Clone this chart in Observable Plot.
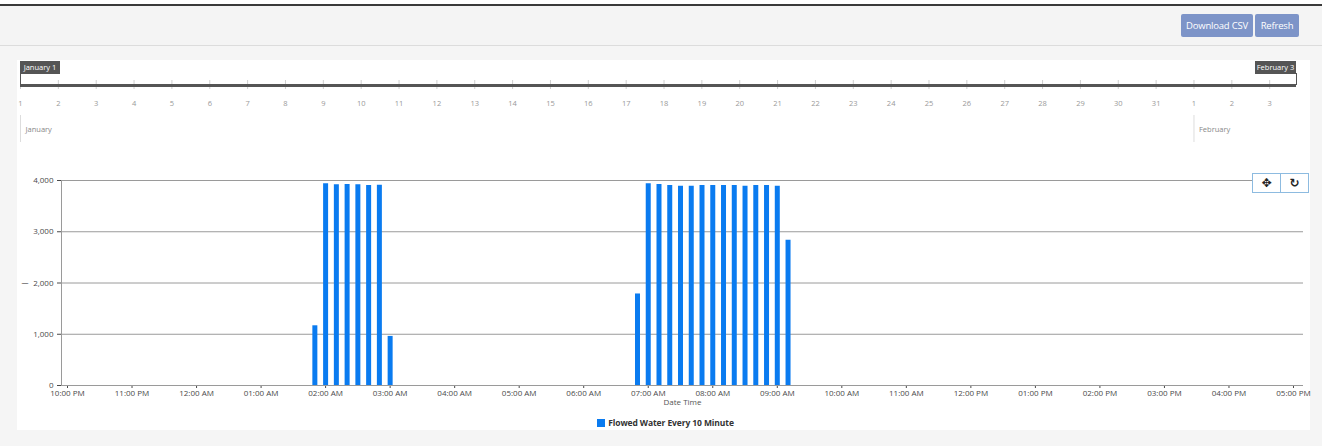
<!DOCTYPE html>
<html>
<head>
<meta charset="utf-8">
<script src="https://cdn.jsdelivr.net/npm/d3@7"></script>
<script src="https://cdn.jsdelivr.net/npm/@observablehq/plot@0.6"></script>
<style>
  html, body { margin: 0; padding: 0; }
  body { width: 1322px; height: 446px; overflow: hidden; background: #f5f5f5; position: relative; font-family: "Open Sans", "Noto Sans", sans-serif; }
  #whiteTop { position: absolute; left: 0; top: 0; width: 1322px; height: 4px; background: #fff; }
  #topline { position: absolute; left: 0; top: 4px; width: 1322px; height: 2px; background: #3a3a3a; }
  #header { position: absolute; left: 0; top: 6px; width: 1322px; height: 39px; background: #f4f4f4; border-bottom: 1px solid #dcdcdc; }
  .btn { position: absolute; top: 8px; height: 23px; line-height: 23px; background: #7d94c8; color: #fff; font-size: 9.5px; text-align: center; border-radius: 2px; white-space: nowrap; letter-spacing: -0.2px; }
  #panel { position: absolute; left: 17px; top: 60px; width: 1293px; height: 370px; background: #fff; }
  #timeline { position: absolute; left: 0; top: 0; }
  #chart { position: absolute; left: 0; top: 100px; }
  .flag { position: absolute; top: 1px; height: 13px; line-height: 13px; background: #555; color: #fff; font-size: 7.5px; text-align: center; white-space: nowrap; }
  #zoomBox { position: absolute; left: 1235px; top: 113px; height: 18px; border: 1px solid #8dbbe0; background: #fff; display: flex; }
  #zoomBox div { width: 27px; height: 18px; line-height: 18px; text-align: center; font-size: 12px; font-weight: bold; color: #222; font-family: "DejaVu Sans", sans-serif; }
  #zoomBox div + div { border-left: 1px solid #8dbbe0; }
  #legend { position: absolute; left: 2px; top: 357px; width: 1293px; display: flex; justify-content: center; align-items: center; font-size: 8.5px; font-weight: bold; color: #333; letter-spacing: -0.1px; }
  #legend span.sw { display: inline-block; width: 8px; height: 8px; margin-right: 3px; }
</style>
</head>
<body>
<div id="whiteTop"></div>
<div id="topline"></div>
<div id="header">
  <div class="btn" style="left:1181px;width:72px;">Download CSV</div>
  <div class="btn" style="left:1255px;width:44px;">Refresh</div>
</div>
<div id="panel">
  <div id="timeline"></div>
  <div class="flag" style="left:3px;width:40px;">January 1</div>
  <div class="flag" style="left:1238px;width:41px;">February 3</div>
  <div id="chart"></div>
  <div id="zoomBox"><div>✥</div><div>↻</div></div>
  <div id="legend"></div>
</div>
<script>
// ---- data ----
const seriesName = "Flowed Water Every 10 Minute";
const seriesColor = "#0a7bf0";
const burst1Times = ["01:50","02:00","02:10","02:20","02:30","02:40","02:50","03:00"];
const burst1Values = [1165, 3935, 3916, 3922, 3916, 3903, 3909, 958];
const burst2Times = ["06:50","07:00","07:10","07:20","07:30","07:40","07:50","08:00","08:10","08:20","08:30","08:40","08:50","09:00","09:10"];
const burst2Values = [1786, 3935, 3922, 3903, 3890, 3890, 3903, 3903, 3903, 3903, 3890, 3903, 3903, 3890, 2835];
const yTicks = [0, 1000, 2000, 3000, 4000];
const xStartStr = "2025-02-02T21:54:25Z";
const xEndStr = "2025-02-03T17:09:18Z";
const firstHourStr = "2025-02-02T22:00Z";
const timelineStartStr = "2025-01-01T00:00Z";
const timelineEndStr = "2025-02-03T17:00Z";
const monthStarts = ["2025-01-01T00:00Z", "2025-02-01T00:00Z"];
const xLabel = "Date Time";

// ---- build ----
const day = "2025-02-03T";
const flow = [
  ...burst1Times.map((t, i) => ({t: new Date(day + t + "Z"), v: burst1Values[i]})),
  ...burst2Times.map((t, i) => ({t: new Date(day + t + "Z"), v: burst2Values[i]}))
];
const xStart = new Date(xStartStr), xEnd = new Date(xEndStr);
const hourTicks = d3.utcHour.range(new Date(firstHourStr), xEnd);
const tlStart = new Date(timelineStartStr), tlEnd = new Date(timelineEndStr);
const days = d3.utcDay.range(tlStart, tlEnd);
const months = monthStarts.map(s => new Date(s));
const font = '"Open Sans", "Noto Sans", sans-serif';

const timeline = Plot.plot({
  width: 1293, height: 85,
  marginLeft: 3, marginRight: 14, marginTop: 0, marginBottom: 0,
  style: {fontFamily: font, fontSize: "7.5px", background: "transparent", overflow: "visible"},
  x: {type: "utc", domain: [tlStart, tlEnd], axis: null},
  y: {type: "identity", axis: null},
  marks: [
    Plot.ruleX(days, {x: d => d, y1: 20, y2: 29, stroke: "#cfcfcf"}),
    Plot.ruleY([25], {x1: tlStart, x2: tlEnd, stroke: "#555", strokeWidth: 3}),
    Plot.ruleX([tlStart], {y1: 13, y2: 25, stroke: "#555"}),
    Plot.ruleX([tlEnd], {y1: 13, y2: 25, stroke: "#555"}),
    Plot.text(days, {x: d => d, y: 43, text: d => String(d.getUTCDate()), fill: "#999"}),
    Plot.ruleX(months, {x: d => d, y1: 55, y2: 82, stroke: "#ddd"}),
    Plot.text(months, {x: d => d, y: 69, text: d => d3.utcFormat("%B")(d), textAnchor: "start", dx: 5, fill: "#888"})
  ]
});
document.getElementById("timeline").appendChild(timeline);

const chart = Plot.plot({
  width: 1293, height: 250,
  marginLeft: 44, marginRight: 7, marginTop: 20, marginBottom: 25,
  style: {fontFamily: font, fontSize: "8px", color: "#4a4a4a", background: "transparent", overflow: "visible"},
  x: {type: "utc", domain: [xStart, xEnd], ticks: hourTicks, tickFormat: d3.utcFormat("%I:%M %p"), tickSize: 3, tickPadding: 2, label: null},
  y: {domain: [0, 4000], ticks: yTicks, tickFormat: d3.format(","), tickSize: 4, tickPadding: 4, label: null},
  marks: [
    Plot.ruleY(yTicks, {stroke: "#9a9a9a"}),
    Plot.ruleX([xStart], {stroke: "#9a9a9a"}),
    Plot.ruleX(flow, {x: "t", y1: 0, y2: "v", stroke: seriesColor, strokeWidth: 5}),
    Plot.text([xLabel], {frameAnchor: "bottom", dy: 19, fill: "#555", fontSize: 8}),
    Plot.text(["—"], {frameAnchor: "left", dx: -40, fill: "#333", fontSize: 7})
  ]
});
document.getElementById("chart").appendChild(chart);

const legend = document.getElementById("legend");
legend.innerHTML = `<span class="sw" style="background:${seriesColor}"></span><span>${seriesName}</span>`;
</script>
</body>
</html>
